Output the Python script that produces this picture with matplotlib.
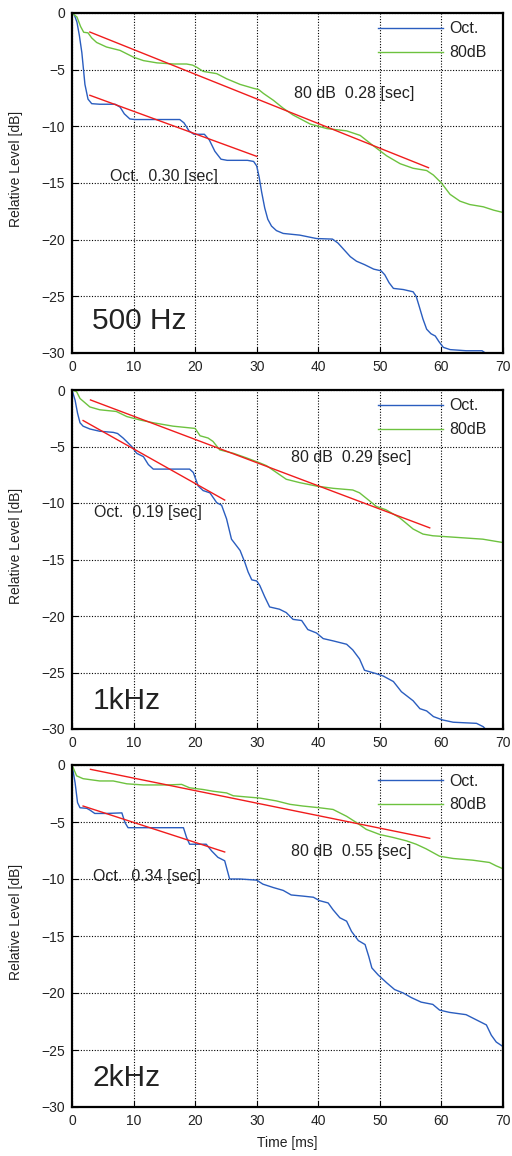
import matplotlib
matplotlib.use("Agg")
import matplotlib.pyplot as plt

plt.rcParams['font.family'] = ['Liberation Sans', 'DejaVu Sans']

# ---------------- data ----------------
# 500 Hz
t_oct_500 = [0, 0.4, 0.8, 1.2, 1.6, 2.1, 2.6, 3.2, 4.5, 7.0, 7.8, 8.5, 9.4, 10.2, 14, 17.5, 18.2, 19.0, 19.8,
             21.5, 22.3, 23.2, 24.2, 25.2, 28.5, 29.5, 30.0, 30.4, 30.8, 31.3, 31.8, 32.4, 33.2, 34.3, 37, 39.7,
             42.3, 43.2, 44.2, 45.2, 46.2, 47.5, 49, 50.2, 50.8, 51.5, 52.2, 53.8, 55.4, 55.9, 56.4, 57.0, 57.6,
             58.3, 59.0, 59.6, 60.3, 61.4, 64, 66.6, 67.0, 67.4]
L_oct_500 = [0, -0.2, -0.8, -2.0, -3.5, -6.3, -7.6, -8.0, -8.05, -8.05, -8.3, -8.9, -9.35, -9.4, -9.4, -9.4, -9.7,
             -10.4, -10.7, -10.7, -11.2, -12.2, -12.9, -13.0, -13.0, -13.1, -13.5, -14.5, -15.8, -17.2, -18.2, -18.8,
             -19.2, -19.45, -19.6, -19.9, -19.95, -20.3, -20.9, -21.5, -21.9, -22.2, -22.6, -22.75, -23.1, -23.8,
             -24.3, -24.4, -24.6, -25.0, -25.9, -27.0, -27.9, -28.3, -28.5, -29.0, -29.5, -29.7, -29.8, -29.8,
             -29.95, -30.2]
t_80_500 = [0, 0.8, 1.4, 1.9, 2.6, 3.2, 4.0, 5.6, 7.8, 10.0, 11.6, 13.8, 16.5, 18.6, 19.6, 20.3, 21.3, 23.5, 25.1,
            27.3, 29.5, 30.3, 31.1, 32.7, 34.3, 35.9, 38.7, 41.4, 44.6, 46.8, 48.9, 51.1, 53.3, 55.4, 57.6, 58.7,
            60.0, 61.4, 63.0, 64.6, 66.8, 68.5, 70]
L_80_500 = [0, -0.35, -1.2, -1.7, -1.75, -2.2, -2.6, -3.0, -3.3, -3.9, -4.2, -4.4, -4.5, -4.5, -4.6, -4.8, -5.15,
            -5.35, -5.8, -6.3, -6.65, -6.75, -7.1, -7.7, -8.4, -9.0, -9.8, -10.2, -10.4, -10.8, -11.7, -12.6, -13.3,
            -13.7, -13.9, -14.3, -15.0, -16.0, -16.6, -16.9, -17.1, -17.4, -17.6]
fit80_t_500 = [2.9, 57.9]
fit80_L_500 = [-1.68, -13.65]
fitoct_t_500 = [2.9, 30.0]
fitoct_L_500 = [-7.26, -12.65]

# 1 kHz
t_oct_1k = [0, 0.5, 0.9, 1.3, 1.8, 2.9, 4.5, 6.7, 7.4, 8.3, 9.7, 10.5, 11.6, 12.4, 13.2, 15.4, 19.1, 19.7, 20.5,
            21.3, 22.4, 23.5, 24.3, 25.1, 25.9, 27.3, 28.1, 28.6, 29.2, 30.0, 30.5, 31.3, 32.1, 33.7, 34.8, 35.9,
            37.3, 38.3, 39.7, 40.8, 42.4, 44.6, 45.6, 46.7, 47.5, 49.4, 50.5, 52.2, 53.5, 55.4, 56.5, 57.6, 58.7,
            60.2, 61.9, 65.7, 66.8, 67.3]
L_oct_1k = [0, -0.9, -2.05, -2.9, -3.2, -3.45, -3.65, -3.75, -3.85, -4.25, -5.0, -5.6, -5.9, -6.6, -7.0, -7.0,
            -7.0, -7.3, -8.5, -8.9, -9.1, -9.97, -10.2, -11.4, -13.2, -14.2, -15.3, -16.1, -16.8, -16.9, -17.3,
            -18.3, -19.2, -19.4, -19.7, -20.3, -20.4, -21.2, -21.5, -22.0, -22.2, -22.5, -23.0, -23.8, -24.8, -25.1,
            -25.3, -25.8, -26.7, -27.5, -28.2, -28.4, -28.9, -29.2, -29.4, -29.5, -29.8, -30.1]
t_80_1k = [0, 0.75, 1.3, 2.9, 4.5, 7.2, 8.9, 11.0, 13.2, 16.4, 20.0, 20.8, 22.1, 22.9, 24.0, 26.2, 28.3, 30.5,
           31.6, 33.2, 34.8, 37.0, 39.7, 42.4, 45.6, 46.7, 48.3, 49.4, 51.0, 53.2, 55.4, 57.0, 58.6, 61.3, 66.7, 70]
L_80_1k = [0, -0.15, -0.75, -1.5, -1.75, -1.9, -2.35, -2.65, -2.9, -3.2, -3.4, -4.05, -4.25, -4.55, -5.3, -5.6,
           -6.0, -6.45, -6.7, -7.3, -7.9, -8.2, -8.5, -8.7, -8.85, -9.1, -9.8, -10.3, -10.6, -11.3, -12.3, -12.75,
           -12.9, -13.0, -13.2, -13.5]
fit80_t_1k = [3.0, 58.1]
fit80_L_1k = [-0.88, -12.2]
fitoct_t_1k = [1.8, 24.8]
fitoct_L_1k = [-2.7, -9.74]

# 2 kHz
t_oct_2k = [0, 0.5, 0.9, 1.3, 2.4, 2.9, 3.7, 5.6, 8.1, 8.6, 9.1, 12.7, 18.1, 18.6, 19.1, 21.8, 22.7, 23.7, 24.8,
            25.6, 27.3, 30.0, 31.0, 32.7, 34.3, 35.6, 37.5, 39.2, 40.2, 41.6, 42.4, 43.5, 44.6, 45.4, 46.5, 47.6,
            48.2, 48.7, 49.7, 51.1, 52.4, 53.8, 55.1, 56.7, 58.6, 59.7, 61.3, 64.0, 65.1, 66.2, 67.3, 68.1, 68.9, 70]
L_oct_2k = [0, -1.55, -3.3, -3.75, -3.8, -3.95, -4.25, -4.25, -4.2, -5.05, -5.5, -5.5, -5.5, -6.35, -6.95, -6.95,
            -7.55, -8.1, -8.4, -10.0, -10.0, -10.1, -10.45, -10.75, -11.0, -11.4, -11.5, -11.6, -11.9, -12.1, -12.7,
            -13.4, -13.7, -14.6, -15.4, -15.75, -16.8, -17.8, -18.4, -19.1, -19.7, -20.0, -20.4, -20.8, -21.0,
            -21.5, -21.7, -21.9, -22.2, -22.5, -22.8, -23.7, -24.3, -24.7]
t_80_2k = [0, 0.75, 1.8, 4.5, 6.7, 8.9, 11.6, 15.4, 17.8, 19.1, 21.3, 22.9, 25.1, 26.2, 28.3, 30.5, 33.2, 35.4,
           37.5, 40.2, 42.4, 43.5, 44.6, 46.2, 47.8, 50.0, 52.1, 54.3, 55.9, 57.5, 59.7, 61.9, 65.1, 67.8, 68.9, 70]
L_80_2k = [0, -0.95, -1.2, -1.4, -1.4, -1.65, -1.75, -1.75, -1.7, -2.0, -2.15, -2.3, -2.45, -2.7, -2.8, -2.9,
           -3.15, -3.45, -3.6, -3.75, -3.9, -4.2, -4.5, -5.05, -5.65, -6.1, -6.35, -6.65, -6.95, -7.35, -8.0, -8.2,
           -8.35, -8.55, -8.85, -9.1]
fit80_t_2k = [3.0, 58.1]
fit80_L_2k = [-0.38, -6.43]
fitoct_t_2k = [1.8, 24.8]
fitoct_L_2k = [-3.6, -7.63]

panel_labels = ["500 Hz", "1kHz", "2kHz"]
label80 = ["80 dB  0.28 [sec]", "80 dB  0.29 [sec]", "80 dB  0.55 [sec]"]
labeloct = ["Oct.  0.30 [sec]", "Oct.  0.19 [sec]", "Oct.  0.34 [sec]"]
series_names = ["Oct.", "80dB"]
x_ticks = [0, 10, 20, 30, 40, 50, 60, 70]
y_ticks = [0, -5, -10, -15, -20, -25, -30]

# ---------------- layout ----------------
W, H = 512, 1156
fig = plt.figure(figsize=(W / 100, H / 100), dpi=100)

panels = [
    (t_oct_500, L_oct_500, t_80_500, L_80_500, fit80_t_500, fit80_L_500, fitoct_t_500, fitoct_L_500),
    (t_oct_1k, L_oct_1k, t_80_1k, L_80_1k, fit80_t_1k, fit80_L_1k, fitoct_t_1k, fitoct_L_1k),
    (t_oct_2k, L_oct_2k, t_80_2k, L_80_2k, fit80_t_2k, fit80_L_2k, fitoct_t_2k, fitoct_L_2k),
]
ax_px = [(13, 353), (390, 729), (765, 1107)]
pos80 = [(36.0, -7.1), (35.6, -5.95), (35.6, -7.6)]
posoct = [(6.2, -14.4), (3.6, -10.8), (3.35, -9.77)]
poslabel = [(3.3, -27.2), (3.3, -27.5), (3.3, -27.5)]

BLUE = '#2a5dbf'
GREEN = '#6dc23f'
RED = '#f01c1c'
TXT = '#222222'

left, right = 72, 503
for i, (top, bot) in enumerate(ax_px):
    ax = fig.add_axes([left / W, 1 - bot / H, (right - left) / W, (bot - top) / H])
    to, Lo, t8, L8, ft8, fL8, fto, fLo = panels[i]
    ax.plot(to, Lo, color=BLUE, lw=1.0, label=series_names[0])
    ax.plot(t8, L8, color=GREEN, lw=1.0, label=series_names[1])
    ax.plot(ft8, fL8, color=RED, lw=1.0)
    ax.plot(fto, fLo, color=RED, lw=1.0)
    ax.set_xlim(0, 70)
    ax.set_ylim(-30, 0)
    ax.set_xticks(x_ticks)
    ax.set_yticks(y_ticks)
    ax.grid(True, color='black', linestyle=(0, (1, 1.5)), linewidth=0.8)
    ax.tick_params(direction='in', length=4, width=0.8, labelsize=10, pad=5, colors='black',
                   labelcolor=TXT)
    for s in ax.spines.values():
        s.set_linewidth(1.6)
        s.set_color('black')
    ax.text(pos80[i][0], pos80[i][1], label80[i], fontsize=11.5, va='center', ha='left', color=TXT)
    ax.text(posoct[i][0], posoct[i][1], labeloct[i], fontsize=11.5, va='center', ha='left', color=TXT)
    ax.text(poslabel[i][0], poslabel[i][1], panel_labels[i], fontsize=21.5, va='center', ha='left', color=TXT)
    ax.set_ylabel("Relative Level [dB]", fontsize=10, color=TXT)
    ax.yaxis.set_label_coords(-0.113, 0.54)
    leg = ax.legend(loc='upper left', bbox_to_anchor=(0.71, 0.975), frameon=False, fontsize=11.5,
                    handlelength=4.1, handletextpad=0.35, labelspacing=0.55, borderpad=0, borderaxespad=0)
    for txt in leg.get_texts():
        txt.set_color(TXT)
    if i == 2:
        ax.set_xlabel("Time [ms]", fontsize=10, color=TXT, labelpad=6)

fig.savefig("out.png", dpi=100)
